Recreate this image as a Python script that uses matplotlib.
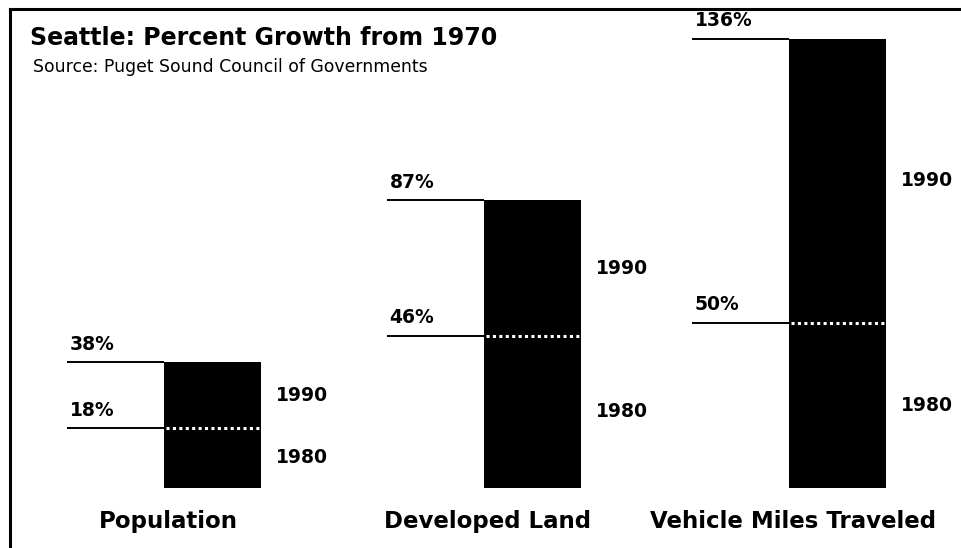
import matplotlib
matplotlib.use("Agg")
import matplotlib.pyplot as plt
from matplotlib.lines import Line2D

# data
categories = ["Population", "Developed Land", "Vehicle Miles Traveled"]
growth_1980 = [18, 46, 50]
growth_1990 = [38, 87, 136]
years = ["1980", "1990"]

title = "Seattle: Percent Growth from 1970"
source = "Source: Puget Sound Council of Governments"

# layout (x in pixel-like units, y in percent)
centers = [213, 533, 838]
bar_w = 97
leader_len = 97

fig = plt.figure(figsize=(9.62, 5.48), dpi=100)
ax = fig.add_axes([0, 0, 1, 1])
ax.set_xlim(0, 962)
ax.set_ylim(-18.3, 147.7)
ax.axis("off")

for i, cat in enumerate(categories):
    c = centers[i]
    left = c - bar_w / 2
    lo = growth_1980[i]
    hi = growth_1990[i]

    # stacked black bar
    ax.bar(c, lo, width=bar_w, color="black", edgecolor="black", linewidth=0)
    ax.bar(c, hi - lo, bottom=lo, width=bar_w, color="black", edgecolor="black", linewidth=0)

    # white dotted divider at 1980 value
    ax.hlines(lo, left + 2, left + bar_w - 2, colors="white", linewidth=2.2,
              linestyles=(0, (1, 1.1)))

    # leader lines and value labels
    for v in (lo, hi):
        ax.hlines(v, left - leader_len, left, colors="black", linewidth=1.4)
        ax.annotate(f"{v}%", xy=(left - leader_len + 2, v), xytext=(0, 6),
                    textcoords="offset points", fontsize=13.5, fontweight="bold",
                    ha="left", va="bottom")

    # year labels beside the bar
    ax.text(left + bar_w + 14, lo / 2, years[0], fontsize=13.5, fontweight="bold",
            ha="left", va="center")
    ax.text(left + bar_w + 14, (lo + hi) / 2, years[1], fontsize=13.5, fontweight="bold",
            ha="left", va="center")

    # category label
    ax.annotate(cat, xy=(c - 45, 0), xytext=(0, -29), textcoords="offset points",
                fontsize=16.5, fontweight="bold", ha="center", va="baseline")

# title and source
fig.text(30 / 962, 1 - 45 / 548, title, fontsize=17, fontweight="bold", va="baseline")
fig.text(33 / 962, 1 - 72 / 548, source, fontsize=12.4, va="baseline")

# frame: top and left edges
fig.add_artist(Line2D([10 / 962, 1], [1 - 9 / 548, 1 - 9 / 548],
                      transform=fig.transFigure, color="black", linewidth=2.2))
fig.add_artist(Line2D([10 / 962, 10 / 962], [0, 1 - 9 / 548],
                      transform=fig.transFigure, color="black", linewidth=2.2))

fig.savefig("out.png", dpi=100, facecolor="white")
